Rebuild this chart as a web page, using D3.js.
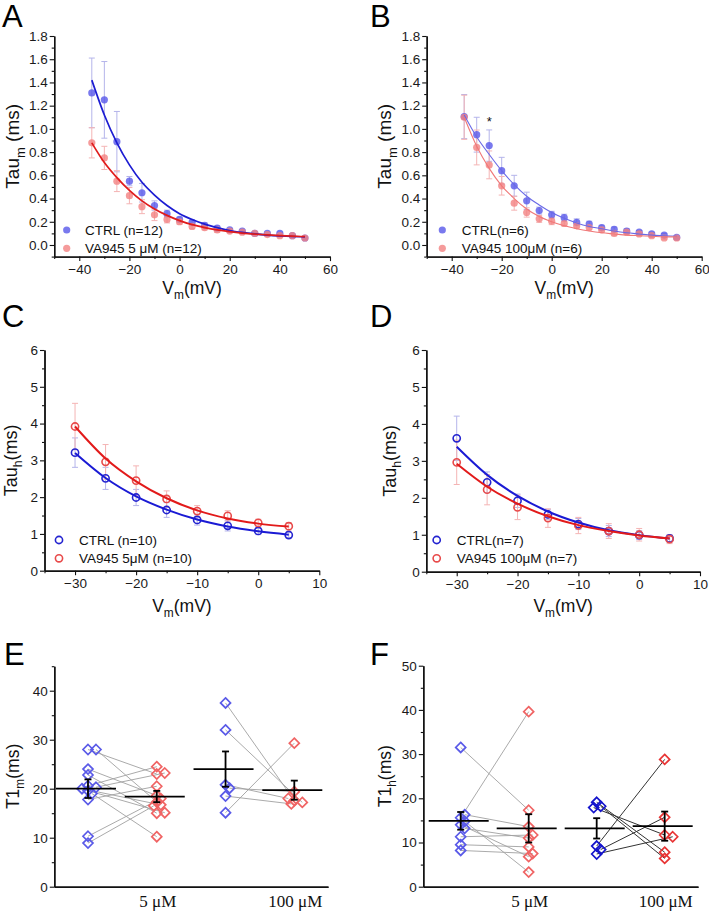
<!DOCTYPE html>
<html><head><meta charset="utf-8">
<script src="https://cdn.jsdelivr.net/npm/d3@7"></script>
<style>body{margin:0;background:#fff}svg{display:block}</style>
</head><body>
<script>
// ---------------- DATA ----------------
const voltAB = [-35,-30,-25,-20,-15,-10,-5,0,5,10,15,20,25,30,35,40,45,50];
const tauA_ctrl     = [1.31,1.25,0.89,0.55,0.45,0.34,0.27,0.22,0.195,0.17,0.145,0.13,0.12,0.10,0.10,0.10,0.08,0.06];
const tauA_ctrl_err = [0.30,0.33,0.26,0.04,0.08,0.04,0.03,0.02,0.02,0.02,0.02,0.01,0.01,0.01,0.01,0.01,0.01,0.01];
const tauA_va       = [0.88,0.75,0.55,0.425,0.33,0.26,0.22,0.20,0.16,0.15,0.13,0.12,0.11,0.10,0.09,0.08,0.08,0.06];
const tauA_va_err   = [0.13,0.10,0.09,0.07,0.06,0.05,0.03,0.02,0.02,0.02,0.02,0.01,0.01,0.01,0.01,0.01,0.01,0.01];
const fitA_ctrl     = [1.42,1.12,0.88,0.69,0.54,0.43,0.34,0.27,0.22,0.18,0.15,0.125,0.108,0.095,0.085,0.078,0.073,0.07];
const fitA_va       = [0.88,0.71,0.58,0.47,0.38,0.31,0.255,0.21,0.175,0.15,0.13,0.115,0.103,0.094,0.087,0.081,0.076,0.072];

const tauB_ctrl     = [1.106,0.95,0.856,0.64,0.51,0.38,0.296,0.26,0.235,0.195,0.18,0.15,0.135,0.12,0.11,0.095,0.085,0.065];
const tauB_ctrl_err = [0.19,0.15,0.135,0.115,0.09,0.075,0.03,0.03,0.03,0.03,0.025,0.02,0.02,0.02,0.015,0.015,0.015,0.01];
const tauB_va       = [1.10,0.84,0.69,0.51,0.36,0.28,0.225,0.205,0.185,0.165,0.15,0.13,0.10,0.11,0.095,0.08,0.06,0.06];
const tauB_va_err   = [0.19,0.15,0.12,0.08,0.06,0.04,0.03,0.03,0.02,0.02,0.02,0.02,0.02,0.015,0.015,0.015,0.01,0.01];
const fitB_ctrl     = [1.12,0.93,0.78,0.64,0.52,0.42,0.345,0.28,0.23,0.19,0.16,0.14,0.12,0.105,0.095,0.085,0.08,0.075];
const fitB_va       = [1.10,0.85,0.66,0.51,0.40,0.31,0.245,0.20,0.165,0.14,0.12,0.105,0.095,0.085,0.08,0.075,0.07,0.07];

const voltCD = [-30,-25,-20,-15,-10,-5,0,5];
const tauC_ctrl     = [3.21,2.51,1.99,1.65,1.38,1.22,1.08,0.97];
const tauC_ctrl_err = [0.40,0.30,0.22,0.20,0.14,0.14,0.10,0.08];
const tauC_va       = [3.92,2.96,2.45,1.95,1.62,1.49,1.30,1.21];
const tauC_va_err   = [0.63,0.47,0.40,0.22,0.15,0.14,0.10,0.10];
const fitC_ctrl     = [3.20,2.52,2.02,1.66,1.39,1.20,1.07,0.98];
const fitC_va       = [3.92,3.05,2.43,1.97,1.64,1.42,1.28,1.20];

const tauD_ctrl     = [3.61,2.42,1.92,1.55,1.29,1.10,0.99,0.90];
const tauD_ctrl_err = [0.60,0.28,0.18,0.14,0.15,0.15,0.12,0.10];
const tauD_va       = [2.96,2.22,1.74,1.45,1.25,1.10,1.00,0.88];
const tauD_va_err   = [0.60,0.41,0.33,0.25,0.22,0.20,0.17,0.12];
const fitD_ctrl     = [3.38,2.62,2.05,1.63,1.33,1.12,0.99,0.90];
const fitD_va       = [2.92,2.30,1.84,1.50,1.26,1.10,0.98,0.90];

const e_ctrl5   = [28.0,28.0,24.0,22.8,20.6,20.3,20.0,19.6,19.0,17.8,10.3,8.9];
const e_va5     = [23.0,17.3,18.6,15.0,24.5,23.2,16.7,15.1,10.2,20.5,18.0,16.5];
const e_ctrl100 = [37.5,32.0,20.8,20.1,18.5,15.1];
const e_va100   = [17.6,17.2,18.0,19.4,16.9,29.3];
const e_mean    = [20.0,18.4,24.0,19.7];
const e_sem     = [1.9,1.15,3.6,1.95];

const f_ctrl5   = [31.5,15.6,16.3,14.8,14.0,13.2,11.3,9.5,8.2];
const f_va5     = [17.3,39.6,13.6,3.3,6.8,11.0,11.7,9.0,7.5];
const f_ctrl100 = [19.1,18.2,17.9,9.2,8.4,7.4];
const f_va100   = [7.8,6.4,11.7,28.8,15.7,11.3];
const f_mean    = [14.9,13.2,13.2,13.7];
const f_sem     = [2.0,3.2,2.3,3.3];

const ticksAB_x = [-40,-20,0,20,40,60];
const ticksAB_xMinor = [-50,-30,-10,10,30,50];
const ticksAB_y = [0,0.2,0.4,0.6,0.8,1.0,1.2,1.4,1.6,1.8];
const ticksAB_yMinor = [-0.1,0.1,0.3,0.5,0.7,0.9,1.1,1.3,1.5,1.7];
const ticksCD_x = [-30,-20,-10,0,10];
const ticksCD_xMinor = [-35,-25,-15,-5,5];
const ticksCD_y = [0,1,2,3,4,5,6];
const ticksCD_yMinor = [0.5,1.5,2.5,3.5,4.5,5.5];
const ticksE_y = [0,10,20,30,40];
const ticksE_yMinor = [5,15,25,35,45];
const ticksF_y = [0,10,20,30,40,50];
const ticksF_yMinor = [5,15,25,35,45];
const catLabels = ["5 \u03BCM","100 \u03BCM"];

// ---------------- DRAW ----------------
const FONT = "Arial, 'Liberation Sans', Helvetica, sans-serif";
const SERIF = "'Times New Roman', 'Liberation Serif', serif";
const svg = d3.select("body").append("svg").attr("width",709).attr("height",914)
  .style("font-family",FONT);

function styleAxis(g){
  g.select(".domain").attr("stroke","#111").attr("stroke-width",1.4);
  g.selectAll(".tick line").attr("stroke","#111").attr("stroke-width",1.1);
  g.selectAll(".tick text").attr("fill","#1a1a1a").style("font-size","13.5px").style("font-family",FONT);
}
function drawAxes(g,x,y,c){
  const yb=y.range()[0], xl=x.range()[0];
  g.append("g").attr("transform",`translate(0,${yb})`)
    .call(d3.axisBottom(x).tickValues(c.xMinor||[]).tickSize(2.5).tickFormat("").tickSizeOuter(0)).call(styleAxis);
  g.append("g").attr("transform",`translate(0,${yb})`)
    .call(d3.axisBottom(x).tickValues(c.xMajor||[]).tickSize(c.xMajor?4.5:0).tickPadding(3).tickFormat(c.xFmt||d3.format("d")).tickSizeOuter(0)).call(styleAxis);
  g.append("g").attr("transform",`translate(${xl},0)`)
    .call(d3.axisLeft(y).tickValues(c.yMinor).tickSize(2.5).tickFormat("").tickSizeOuter(0)).call(styleAxis);
  g.append("g").attr("transform",`translate(${xl},0)`)
    .call(d3.axisLeft(y).tickValues(c.yMajor).tickSize(4.5).tickPadding(2).tickFormat(c.yFmt).tickSizeOuter(0)).call(styleAxis);
}
function subTitle(g,parts,x,y,rot,size){
  const t=g.append("text").attr("transform",`translate(${x},${y})${rot?" rotate(-90)":""}`)
    .attr("text-anchor","middle").style("font-size",size+"px").attr("fill","#111");
  t.append("tspan").text(parts[0]);
  t.append("tspan").text(parts[1]).attr("dy",size*0.3).style("font-size",(size*0.68)+"px");
  t.append("tspan").text(parts[2]).attr("dy",-size*0.3);
}
function letter(t,x,y){
  svg.append("text").attr("x",x).attr("y",y).text(t).style("font-size","31px").attr("fill","#000");
}

function xyPanel(c){
  const g=svg.append("g");
  const x=d3.scaleLinear().domain(c.xd).range(c.xr);
  const y=d3.scaleLinear().domain(c.yd).range(c.yr);
  drawAxes(g,x,y,c);
  const line=d3.line().x(d=>x(d[0])).y(d=>y(d[1])).curve(d3.curveMonotoneX);
  c.series.forEach(s=>{
    const pts=d3.zip(c.volt,s.vals,s.err);
    const eb=g.append("g").attr("stroke",s.errColor).attr("stroke-width",1).attr("fill","none");
    pts.forEach(p=>{
      const xx=x(p[0]), y1=y(p[1]+p[2]), y2=y(p[1]-p[2]);
      eb.append("line").attr("x1",xx).attr("x2",xx).attr("y1",y1).attr("y2",y2);
      eb.append("line").attr("x1",xx-3).attr("x2",xx+3).attr("y1",y1).attr("y2",y1);
      eb.append("line").attr("x1",xx-3).attr("x2",xx+3).attr("y1",y2).attr("y2",y2);
    });
  });
  c.series.forEach(s=>{
    g.append("g").selectAll("circle").data(d3.zip(c.volt,s.vals)).join("circle")
      .attr("cx",d=>x(d[0])).attr("cy",d=>y(d[1])).attr("r",c.r)
      .attr("fill",c.filled?s.color:"none").attr("fill-opacity",0.8)
      .attr("stroke",c.filled?"none":s.color).attr("stroke-width",1.6);
  });
  c.series.forEach(s=>{
    g.append("path").datum(d3.zip(c.volt,s.fit)).attr("d",line)
      .attr("fill","none").attr("stroke",s.lineColor).attr("stroke-width",c.lw);
  });
  c.series.forEach((s,i)=>{
    const ly=c.leg[1]+i*18.3;
    g.append("circle").attr("cx",c.leg[0]).attr("cy",ly).attr("r",c.r)
      .attr("fill",c.filled?s.color:"none").attr("fill-opacity",0.8)
      .attr("stroke",c.filled?"none":s.color).attr("stroke-width",1.6);
    g.append("text").attr("x",c.leg[2]).attr("y",ly).attr("dy","0.36em").text(s.name)
      .style("font-size","13.5px").attr("fill","#111");
  });
  subTitle(g,c.ytitle,c.ytx,(c.yr[0]+c.yr[1])/2,true,c.yts);
  subTitle(g,["V","m","(mV)"],(c.xr[0]+c.xr[1])/2,c.xty,false,17.5);
  return {g,x,y};
}

const blueF="#5858ea", redF="#f28282";
const pA=xyPanel({volt:voltAB,xd:[-50,60],xr:[54.2,330],yd:[-0.1,1.8],yr:[256.6,36],
  xMajor:ticksAB_x,xMinor:ticksAB_xMinor,yMajor:ticksAB_y,yMinor:ticksAB_yMinor,yFmt:d3.format(".1f"),
  filled:true,r:3.6,lw:1.7,leg:[66.7,230,85],ytx:19,yts:19,xty:294,ytitle:["Tau","m"," (ms)"],
  series:[
    {name:"CTRL (n=12)",vals:tauA_ctrl,err:tauA_ctrl_err,fit:fitA_ctrl,color:blueF,errColor:"#b4b4ea",lineColor:"#1c1cd2"},
    {name:"VA945 5 \u03BCM (n=12)",vals:tauA_va,err:tauA_va_err,fit:fitA_va,color:redF,errColor:"#f4b4b4",lineColor:"#e01c1c"}]});
letter("A",2,27);

const pB=xyPanel({volt:voltAB,xd:[-50,60],xr:[426.7,701.7],yd:[-0.1,1.8],yr:[256.6,36],
  xMajor:ticksAB_x,xMinor:ticksAB_xMinor,yMajor:ticksAB_y,yMinor:ticksAB_yMinor,yFmt:d3.format(".1f"),
  filled:true,r:3.6,lw:1.1,leg:[442.3,230,461.7],ytx:391,yts:19,xty:294,ytitle:["Tau","m"," (ms)"],
  series:[
    {name:"CTRL(n=6)",vals:tauB_ctrl,err:tauB_ctrl_err,fit:fitB_ctrl,color:blueF,errColor:"#b4b4ea",lineColor:"#6a6ae6"},
    {name:"VA945 100\u03BCM (n=6)",vals:tauB_va,err:tauB_va_err,fit:fitB_va,color:redF,errColor:"#f4b4b4",lineColor:"#f07878"}]});
pB.g.append("text").attr("x",pB.x(-25)).attr("y",pB.y(0.99)-4).attr("text-anchor","middle")
  .text("*").style("font-size","13px").attr("fill","#111");
letter("B",370,27);

const pC=xyPanel({volt:voltCD,xd:[-35,10],xr:[44.5,319.3],yd:[0,6],yr:[570.7,350],
  xMajor:ticksCD_x,xMinor:ticksCD_xMinor,yMajor:ticksCD_y,yMinor:ticksCD_yMinor,yFmt:d3.format("d"),
  filled:false,r:3.6,lw:2,leg:[59,540,79],ytx:17,yts:18,xty:612,ytitle:["Tau","h","(ms)"],
  series:[
    {name:"CTRL (n=10)",vals:tauC_ctrl,err:tauC_ctrl_err,fit:fitC_ctrl,color:"#2424d0",errColor:"#b4b4ea",lineColor:"#1a1ad4"},
    {name:"VA945 5\u03BCM (n=10)",vals:tauC_va,err:tauC_va_err,fit:fitC_va,color:"#e84a4a",errColor:"#f4b4b4",lineColor:"#e21a1a"}]});
letter("C",2,327);

const pD=xyPanel({volt:voltCD,xd:[-35,10],xr:[426.3,700],yd:[0,6],yr:[571.7,350],
  xMajor:ticksCD_x,xMinor:ticksCD_xMinor,yMajor:ticksCD_y,yMinor:ticksCD_yMinor,yFmt:d3.format("d"),
  filled:false,r:3.6,lw:2,leg:[436.7,540,456.7],ytx:396,yts:18,xty:612,ytitle:["Tau","h","(ms)"],
  series:[
    {name:"CTRL(n=7)",vals:tauD_ctrl,err:tauD_ctrl_err,fit:fitD_ctrl,color:"#2424d0",errColor:"#b4b4ea",lineColor:"#1a1ad4"},
    {name:"VA945 100\u03BCM (n=7)",vals:tauD_va,err:tauD_va_err,fit:fitD_va,color:"#e84a4a",errColor:"#f4b4b4",lineColor:"#e21a1a"}]});
letter("D",370,327);

// ---------- paired panels ----------
function dodge(vals,y,cx){
  const placed=[], out=[];
  const cand=[0,4,-3,8,-6,11,-9];
  vals.forEach(v=>{
    const yy=y(v);
    let dx=cand[cand.length-1];
    for(const c of cand){
      if(placed.every(p=>Math.hypot(p[0]-(cx+c),p[1]-yy)>=4.5)){dx=c;break;}
    }
    placed.push([cx+dx,yy]); out.push([cx+dx,yy]);
  });
  return out;
}
function diamond(s){return `M0,${-s}L${s},0L0,${s}L${-s},0Z`;}
function pairPanel(c){
  const g=svg.append("g");
  const x=d3.scaleLinear().domain(c.xd).range(c.xr);
  const y=d3.scaleLinear().domain(c.yd).range(c.yr);
  drawAxes(g,x,y,{xMajor:null,xMinor:[],yMajor:c.yMajor,yMinor:c.yMinor,yFmt:d3.format("d")});
  catLabels.forEach((t,i)=>{
    g.append("text").attr("x",x(2+2*i)+1).attr("y",907).attr("text-anchor","middle").text(t)
      .style("font-family",SERIF).style("font-size","17px").attr("fill","#111");
  });
  c.pairs.forEach(p=>{
    const a=dodge(p.a,y,x(p.pos)), b=dodge(p.b,y,x(p.pos+1));
    const lg=g.append("g").attr("stroke",p.lineColor).attr("stroke-width",p.lw);
    a.forEach((pa,i)=>lg.append("line").attr("x1",pa[0]).attr("y1",pa[1]).attr("x2",b[i][0]).attr("y2",b[i][1]));
    [[a,p.ca],[b,p.cb]].forEach(([pts,col])=>{
      g.append("g").selectAll("path").data(pts).join("path")
        .attr("transform",d=>`translate(${d[0]},${d[1]})`).attr("d",diamond(5))
        .attr("fill","none").attr("stroke",col).attr("stroke-width",1.7);
    });
  });
  c.mean.forEach((m,i)=>{
    const cx=x(i+1), ym=y(m), y1=y(m+c.sem[i]), y2=y(m-c.sem[i]);
    const mg=g.append("g").attr("stroke","#000").attr("stroke-width",1.8);
    mg.append("line").attr("x1",cx-32).attr("x2",cx+28).attr("y1",ym).attr("y2",ym);
    mg.append("line").attr("x1",cx).attr("x2",cx).attr("y1",y1).attr("y2",y2);
    mg.append("line").attr("x1",cx-3.5).attr("x2",cx+3.5).attr("y1",y1).attr("y2",y1);
    mg.append("line").attr("x1",cx-3.5).attr("x2",cx+3.5).attr("y1",y2).attr("y2",y2);
  });
  subTitle(g,c.ytitle,c.ytx,(c.yr[0]+c.yr[1])/2,true,17.5);
}
const blueD="#5a5ae8", redD="#f06464";
pairPanel({xd:[0.51,4.49],xr:[54.3,328],yd:[0,45],yr:[886.7,666.2],yMajor:ticksE_y,yMinor:ticksE_yMinor,
  ytx:19,ytitle:["T1","m","(ms)"],mean:e_mean,sem:e_sem,
  pairs:[{a:e_ctrl5,b:e_va5,pos:1,ca:blueD,cb:redD,lineColor:"#a0a0a0",lw:0.9},
         {a:e_ctrl100,b:e_va100,pos:3,ca:blueD,cb:redD,lineColor:"#a0a0a0",lw:0.9}]});
letter("E",4,665);
pairPanel({xd:[0.45,4.49],xr:[423.3,698],yd:[0,50],yr:[886.7,665.7],yMajor:ticksF_y,yMinor:ticksF_yMinor,
  ytx:391,ytitle:["T1","h","(ms)"],mean:f_mean,sem:f_sem,
  pairs:[{a:f_ctrl5,b:f_va5,pos:1,ca:blueD,cb:redD,lineColor:"#a0a0a0",lw:0.9},
         {a:f_ctrl100,b:f_va100,pos:3,ca:"#1414cc",cb:"#e83434",lineColor:"#333",lw:1}]});
letter("F",370,665);
</script>
</body></html>
